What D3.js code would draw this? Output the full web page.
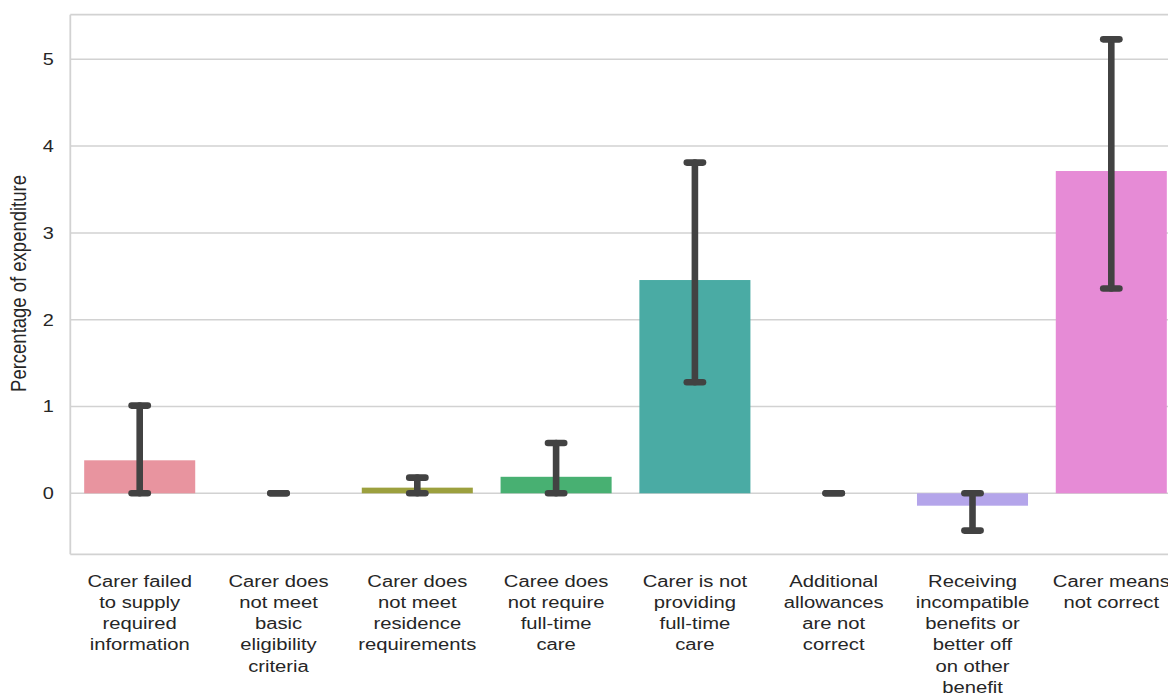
<!DOCTYPE html>
<html>
<head>
<meta charset="utf-8">
<script src="https://cdn.jsdelivr.net/npm/d3@7"></script>
<style>
  html, body { margin: 0; padding: 0; background: #fff; }
  svg { display: block; font-family: "Liberation Sans", Arial, sans-serif; }
</style>
</head>
<body>
<svg id="chart" width="1168" height="693"></svg>
<script>
// Error categories (each label split into its display lines)
const categories = [
  ["Carer failed", "to supply", "required", "information"],
  ["Carer does", "not meet", "basic", "eligibility", "criteria"],
  ["Carer does", "not meet", "residence", "requirements"],
  ["Caree does", "not require", "full-time", "care"],
  ["Carer is not", "providing", "full-time", "care"],
  ["Additional", "allowances", "are not", "correct"],
  ["Receiving", "incompatible", "benefits or", "better off", "on other", "benefit"],
  ["Carer means", "not correct"]
];

// Estimated share of expenditure (%) and its confidence interval
const values  = [0.38, 0.0, 0.065, 0.19, 2.457, 0.0, -0.143, 3.713];
const ciLow   = [0.0, 0.0, 0.0, 0.0, 1.28, 0.0, -0.43, 2.36];
const ciHigh  = [1.01, 0.0, 0.18, 0.58, 3.81, 0.0, 0.0, 5.23];

const yTicks = [0, 1, 2, 3, 4, 5];
const yLabel = "Percentage of expenditure";

const barColors = ["#e8949f", "#cf9f4a", "#9ca03e", "#48b072",
                   "#4aaba4", "#4ba5cf", "#b4a5ea", "#e68bd6"];

// Layout
const plotLeft = 70.3, plotTop = 14.7, plotBottom = 554.3;
const band = 138.8;
const plotRight = plotLeft + band * categories.length; // axes extends past the canvas edge
const textStretch = 1.17; // the figure's text is drawn horizontally widened

const svg = d3.select("#chart");

const x = d3.scaleBand()
  .domain(d3.range(categories.length))
  .range([plotLeft, plotRight])
  .paddingInner(0.2).paddingOuter(0.1);

const y = d3.scaleLinear()
  .domain([-0.703, 5.514])
  .range([plotBottom, plotTop]);

const gridColor = "#d2d2d2";
const textColor = "#262626";

// Horizontal grid
svg.append("g")
  .selectAll("line")
  .data(yTicks)
  .join("line")
  .attr("x1", plotLeft).attr("x2", plotRight)
  .attr("y1", d => y(d)).attr("y2", d => y(d))
  .attr("stroke", gridColor)
  .attr("stroke-width", 1.5);

// Bars
svg.append("g")
  .selectAll("rect")
  .data(values)
  .join("rect")
  .attr("x", (d, i) => x(i))
  .attr("width", x.bandwidth())
  .attr("y", d => y(Math.max(0, d)))
  .attr("height", d => Math.abs(y(d) - y(0)))
  .attr("fill", (d, i) => barColors[i]);

// Spines: left, top, bottom
const spines = svg.append("g")
  .attr("stroke", gridColor)
  .attr("stroke-width", 1.8)
  .attr("fill", "none");
spines.append("line").attr("x1", plotLeft).attr("x2", plotLeft).attr("y1", plotTop).attr("y2", plotBottom);
spines.append("line").attr("x1", plotLeft).attr("x2", plotRight).attr("y1", plotTop).attr("y2", plotTop);
spines.append("line").attr("x1", plotLeft).attr("x2", plotRight).attr("y1", plotBottom).attr("y2", plotBottom);

// Confidence intervals with caps
const capHalf = 8.1;
const err = svg.append("g")
  .attr("stroke", "#424242")
  .attr("stroke-width", 6.6)
  .attr("stroke-linecap", "round");
values.forEach((v, i) => {
  const cx = x(i) + x.bandwidth() / 2;
  const lo = y(ciLow[i]), hi = y(ciHigh[i]);
  if (Math.abs(lo - hi) > 0.5) {
    err.append("line").attr("x1", cx).attr("x2", cx).attr("y1", lo).attr("y2", hi);
  }
  err.append("line").attr("x1", cx - capHalf).attr("x2", cx + capHalf).attr("y1", lo).attr("y2", lo);
  err.append("line").attr("x1", cx - capHalf).attr("x2", cx + capHalf).attr("y1", hi).attr("y2", hi);
});

// Y axis tick labels
const yAxis = d3.axisLeft(y).tickValues(yTicks).tickSize(0).tickPadding(0).tickFormat(d3.format("d"));
const ya = svg.append("g").attr("transform", `translate(${plotLeft},0)`).call(yAxis);
ya.select(".domain").remove();
ya.selectAll("text")
  .attr("x", null)
  .attr("transform", `translate(-16.5,0) scale(${textStretch},1)`)
  .attr("fill", textColor)
  .attr("font-size", "17px")
  .attr("font-family", "Liberation Sans, Arial, sans-serif");

// Y axis label
svg.append("text")
  .attr("transform", `translate(26,${(plotTop + plotBottom) / 2 - 1}) scale(${textStretch},1) rotate(-90)`)
  .attr("text-anchor", "middle")
  .attr("fill", textColor)
  .attr("font-size", "18.5px")
  .text(yLabel);

// X category labels (multi-line, centred under each bar)
const xl = svg.append("g")
  .attr("fill", textColor)
  .attr("font-size", "17.3px")
  .attr("text-anchor", "middle");
categories.forEach((lines, i) => {
  const t = xl.append("text")
    .attr("transform", `translate(${x(i) + x.bandwidth() / 2},586.8) scale(${textStretch},1)`);
  lines.forEach((ln, k) => {
    t.append("tspan")
      .attr("x", 0)
      .attr("dy", k === 0 ? 0 : 21.2)
      .text(ln);
  });
});
</script>
</body>
</html>
